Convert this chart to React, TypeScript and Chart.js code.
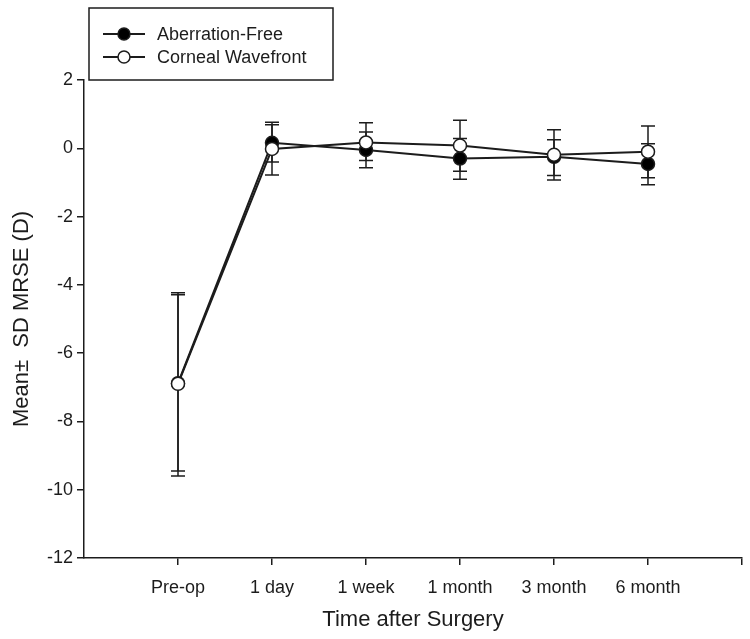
import React, { useEffect, useRef } from "react";
import { Chart, registerables } from "chart.js";

Chart.register(...registerables);

const categories = ["Pre-op", "1 day", "1 week", "1 month", "3 month", "6 month"];
const seriesNames = ["Aberration-Free", "Corneal Wavefront"];

const afMean = [-6.88, 0.16, -0.05, -0.3, -0.25, -0.46];
const afUpper = [-4.29, 0.76, 0.48, 0.29, 0.25, 0.13];
const afLower = [-9.45, -0.4, -0.57, -0.91, -0.8, -1.07];

const cwMean = [-6.9, -0.02, 0.17, 0.08, -0.19, -0.1];
const cwUpper = [-4.23, 0.69, 0.75, 0.82, 0.54, 0.65];
const cwLower = [-9.6, -0.78, -0.36, -0.67, -0.93, -0.86];

const yTicks = [2, 0, -2, -4, -6, -8, -10, -12];

const INK = "#1c1c1c";
const FONT = "'Liberation Sans', Arial, sans-serif";

const errorBars = [
  { upper: afUpper, lower: afLower },
  { upper: cwUpper, lower: cwLower },
];

const errorBarPlugin = {
  id: "errorBars",
  beforeDatasetsDraw(chart: any) {
    const { ctx, scales } = chart;
    const xs = scales.x;
    const ys = scales.y;
    ctx.save();
    ctx.strokeStyle = INK;
    ctx.lineWidth = 1.5;
    errorBars.forEach((eb) => {
      eb.upper.forEach((u, i) => {
        const px = xs.getPixelForValue(i);
        const pu = ys.getPixelForValue(u);
        const pl = ys.getPixelForValue(eb.lower[i]);
        ctx.beginPath();
        ctx.moveTo(px, pu);
        ctx.lineTo(px, pl);
        ctx.moveTo(px - 7, pu);
        ctx.lineTo(px + 7, pu);
        ctx.moveTo(px - 7, pl);
        ctx.lineTo(px + 7, pl);
        ctx.stroke();
      });
    });
    ctx.restore();
  },
};

const legendPlugin = {
  id: "boxLegend",
  afterDraw(chart: any) {
    const { ctx } = chart;
    ctx.save();
    ctx.strokeStyle = INK;
    ctx.lineWidth = 1.5;
    ctx.strokeRect(89, 8, 244, 72);
    chart.data.datasets.forEach((ds: any, i: number) => {
      const y = 34 + i * 23;
      ctx.beginPath();
      ctx.strokeStyle = INK;
      ctx.lineWidth = 1.8;
      ctx.moveTo(103, y);
      ctx.lineTo(145, y);
      ctx.stroke();
      ctx.beginPath();
      ctx.arc(124, y, 6, 0, Math.PI * 2);
      ctx.fillStyle = ds.pointBackgroundColor;
      ctx.fill();
      ctx.lineWidth = 1.5;
      ctx.stroke();
      ctx.fillStyle = INK;
      ctx.font = `18px ${FONT}`;
      ctx.textBaseline = "middle";
      ctx.textAlign = "left";
      ctx.fillText(ds.label, 157, y + 1);
    });
    ctx.restore();
  },
};

export default function App() {
  const ref = useRef<HTMLCanvasElement>(null);
  useEffect(() => {
    if (!ref.current) return;
    const chart = new Chart(ref.current, {
      type: "line",
      data: {
        datasets: [
          {
            label: seriesNames[0],
            data: afMean.map((v, i) => ({ x: i, y: v })),
            borderColor: INK,
            borderWidth: 2,
            pointRadius: 6.5,
            pointBackgroundColor: "#000000",
            pointBorderColor: INK,
            pointBorderWidth: 1.5,
            fill: false,
            tension: 0,
            order: 2,
          },
          {
            label: seriesNames[1],
            data: cwMean.map((v, i) => ({ x: i, y: v })),
            borderColor: INK,
            borderWidth: 2,
            pointRadius: 6.5,
            pointBackgroundColor: "#ffffff",
            pointBorderColor: INK,
            pointBorderWidth: 1.5,
            fill: false,
            tension: 0,
            order: 1,
          },
        ],
      },
      options: {
        responsive: false,
        animation: false,
        layout: { padding: { top: 80, right: -2, left: 0, bottom: 0 } },
        plugins: {
          legend: { display: false },
          tooltip: { enabled: false },
        },
        scales: {
          x: {
            type: "linear",
            min: -1,
            max: 6,
            afterBuildTicks: (scale: any) => {
              scale.ticks = [0, 1, 2, 3, 4, 5, 6].map((v) => ({ value: v }));
            },
            afterFit: (scale: any) => {
              scale.height = 81;
              scale.paddingLeft = 0;
              scale.paddingRight = 0;
            },
            ticks: {
              autoSkip: false,
              maxRotation: 0,
              padding: 12,
              color: INK,
              font: { family: FONT, size: 18 },
              callback: (v: any) => categories[v as number] ?? "",
            },
            grid: {
              drawOnChartArea: false,
              drawTicks: true,
              tickLength: 7,
              color: INK,
              lineWidth: 1.5,
            },
            border: { display: true, color: INK, width: 1.5 },
            title: {
              display: true,
              text: "Time after Surgery",
              color: INK,
              font: { family: FONT, size: 22 },
              padding: { top: 0, bottom: 6 },
            },
          },
          y: {
            min: -12,
            max: 2,
            afterBuildTicks: (scale: any) => {
              scale.ticks = yTicks.map((v) => ({ value: v }));
            },
            afterFit: (scale: any) => {
              scale.width = 84;
              scale.paddingTop = 0;
              scale.paddingBottom = 0;
            },
            ticks: {
              padding: 4,
              color: INK,
              font: { family: FONT, size: 18 },
            },
            grid: {
              drawOnChartArea: false,
              drawTicks: true,
              tickLength: 7,
              color: INK,
              lineWidth: 1.5,
            },
            border: { display: true, color: INK, width: 1.5 },
            title: {
              display: true,
              text: "Mean±  SD MRSE (D)",
              color: INK,
              font: { family: FONT, size: 22 },
              padding: { top: 9, bottom: 0 },
            },
          },
        },
      },
      plugins: [errorBarPlugin, legendPlugin],
    } as any);
    return () => chart.destroy();
  }, []);
  return (
    <div style={{ position: "absolute", left: 0, top: 0, width: 750, height: 639, background: "#fff" }}>
      <canvas ref={ref} width={750} height={639} />
    </div>
  );
}
